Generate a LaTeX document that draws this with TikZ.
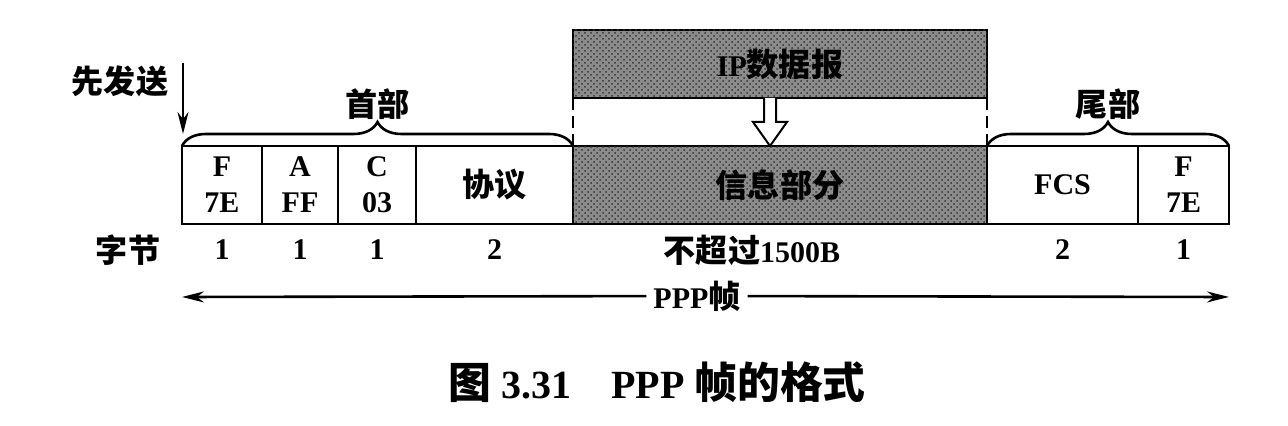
\documentclass[tikz,border=0pt]{standalone}
\usepackage{fontspec}
\setmainfont{Liberation Serif}
\newfontfamily\cjk{Noto Sans CJK SC}[Scale=1.07]
\usepackage{tikz}
\usetikzlibrary{arrows.meta,positioning,decorations.pathreplacing,patterns}

\begin{document}
\begin{tikzpicture}[
    x=0.5pt,
    y=-0.5pt,
    font=\fontsize{15}{18}\selectfont\bfseries,
    cell/.style={draw, line width=1.3pt, minimum height=39pt, inner sep=0pt, outer sep=0pt, anchor=west, align=center},
    shade/.style={cell, fill=black!45, postaction={pattern=crosshatch dots, pattern color=black!80}},
    brace/.style={decorate, decoration={brace, amplitude=12pt}, line width=1.3pt},
    tip/.style={-{Stealth[length=11pt, width=5.5pt]}, line width=1.3pt}
]
\useasboundingbox (0,0) rectangle (1288,426);

% frame fields
\node[cell, minimum width=40pt] (flag1) at (182,185) {F\\7E};
\node[cell, minimum width=38pt, right=0pt of flag1] (addr) {A\\FF};
\node[cell, minimum width=39pt, right=0pt of addr] (ctrl) {C\\03};
\node[cell, minimum width=78.5pt, right=0pt of ctrl] (proto) {\cjk 协议};
\node[shade, minimum width=207pt, right=0pt of proto] (info) {\cjk 信息部分};
\node[cell, minimum width=75.5pt, right=0pt of info] (fcs) {FCS};
\node[cell, minimum width=45.5pt, right=0pt of fcs] (flag2) {F\\7E};

% IP datagram
\node[shade, minimum width=207pt, minimum height=34pt] (ipdg) at (573,64) {IP{\cjk 数据报}};
\draw[dashed, dash pattern=on 6pt off 3pt, line width=1.3pt] (ipdg.south west) -- (info.north west);
\draw[dashed, dash pattern=on 6pt off 3pt, line width=1.3pt] (ipdg.south east) -- (info.north east);
\draw[line width=1pt, fill=white] (ipdg.south) ++(-16,0) -- ++(0,24) -- ++(-11,0) -- ++(17,24)
    -- ++(17,-24) -- ++(-11,0) -- ++(0,-24);

% braces
\draw[brace] (flag1.north west) -- (proto.north east) node[midway, above=9pt] (hdr) {\cjk 首部};
\draw[brace] (fcs.north west) -- (flag2.north east) node[midway, above=9pt] (trl) {\cjk 尾部};

% send first
\node (first) at (120,81) {\cjk 先发送};
\coordinate (sendtop) at (183,63);
\coordinate (sendtip) at (183,134);
\draw[tip] (sendtop) -- (sendtip);

% byte counts
\node (bytes) at (128,250) {\cjk 字节};
\node (n1) at (flag1 |- bytes) {1};
\node (n2) at (addr |- bytes) {1};
\node (n3) at (ctrl |- bytes) {1};
\node (n4) at (proto |- bytes) {2};
\node (n5) at (752,250) {{\cjk 不超过}1500B};
\node (n6) at (fcs |- bytes) {2};
\node (n7) at (flag2 |- bytes) {1};

% whole frame
\node (ppp) at (697,296) {PPP{\cjk 帧}};
\coordinate (fstart) at (182,297);
\coordinate (fend) at (1229,297);
\draw[tip] (ppp) -- (fstart);
\draw[tip] (ppp) -- (fend);

\node[font=\fontsize{20}{22}\selectfont\bfseries] (cap) at (657,382) {{\cjk 图} 3.31\quad PPP {\cjk 帧的格式}};
\end{tikzpicture}
\end{document}
